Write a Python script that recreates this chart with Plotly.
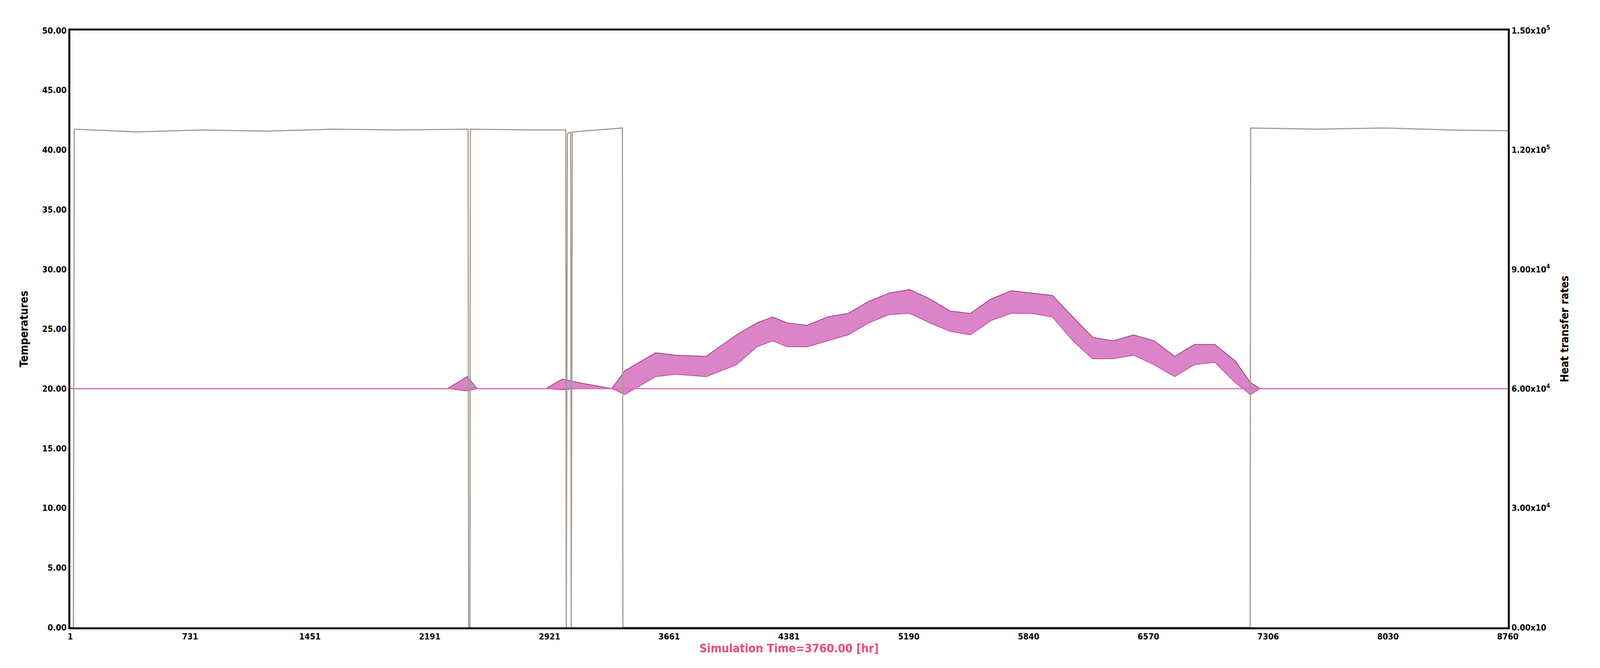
import plotly.graph_objects as go

# x tick positions / labels (labels as printed in the chart)
tick_hours = [1, 731, 1461, 2191, 2921, 3650, 4380, 5110, 5840, 6570, 7300, 8030, 8760]
tick_text = ["1", "731", "1451", "2191", "2921", "3661", "4381", "5190", "5840", "6570", "7306", "8030", "8760"]

# heat transfer rate (grey), breakpoints
heat_hours = [1, 20, 25, 400, 800, 1200, 1600, 2000, 2425, 2428, 2436, 2439, 2800, 3020, 3023, 3030,
              3050, 3053, 3060, 3365, 3368, 7190, 7193, 7600, 8000, 8400, 8760]
heat_rate = [0, 0, 1.252e5, 1.245e5, 1.25e5, 1.247e5, 1.252e5, 1.25e5, 1.252e5, 0, 0, 1.252e5, 1.25e5,
             1.25e5, 0, 1.24e5, 1.245e5, 0, 1.245e5, 1.255e5, 0, 0, 1.255e5, 1.252e5, 1.255e5, 1.25e5, 1.248e5]

# temperature band (pink): lower / upper envelope
temp_hours = [1, 2300, 2420, 2480, 2900, 3000, 3100, 3300, 3380, 3567, 3690, 3875, 4060, 4185, 4280,
              4370, 4490, 4615, 4740, 4865, 4990, 5115, 5240, 5360, 5485, 5610, 5735, 5860, 5985,
              6110, 6230, 6355, 6480, 6605, 6730, 6850, 6975, 7100, 7192, 7250, 8760]
temp_low = [20, 20, 19.8, 20, 20, 19.9, 20, 20, 19.5, 21.0, 21.2, 21.0, 22.0, 23.5, 24.0,
            23.5, 23.5, 24.0, 24.5, 25.5, 26.2, 26.3, 25.5, 24.8, 24.5, 25.7, 26.3, 26.3, 26.0,
            24.0, 22.5, 22.5, 22.8, 22.0, 21.0, 22.0, 22.2, 20.5, 19.5, 20, 20]
temp_high = [20, 20, 21.0, 20, 20, 20.8, 20.5, 20, 21.5, 23.0, 22.8, 22.7, 24.5, 25.5, 26.0,
             25.5, 25.3, 26.0, 26.3, 27.3, 28.0, 28.3, 27.5, 26.5, 26.3, 27.5, 28.2, 28.0, 27.8,
             26.0, 24.3, 24.0, 24.5, 24.0, 22.7, 23.7, 23.7, 22.3, 20.5, 20, 20]

left_ticks = [0, 5, 10, 15, 20, 25, 30, 35, 40, 45, 50]
right_ticks = [0, 3e4, 6e4, 9e4, 1.2e5, 1.5e5]
right_text = ["0.00x10", "3.00x10<sup>4</sup>", "6.00x10<sup>4</sup>", "9.00x10<sup>4</sup>",
              "1.20x10<sup>5</sup>", "1.50x10<sup>5</sup>"]

font = "DejaVu Sans Condensed, Liberation Sans Narrow, Arial Narrow, sans-serif"

fig = go.Figure()
fig.add_trace(go.Scatter(x=temp_hours, y=temp_low, mode="lines",
                         line=dict(color="#c0509e", width=2), showlegend=False))
fig.add_trace(go.Scatter(x=temp_hours, y=temp_high, mode="lines", fill="tonexty",
                         fillcolor="rgba(214,110,190,0.85)",
                         line=dict(color="#9a3f85", width=2), showlegend=False))
fig.add_trace(go.Scatter(x=[1, 8760], y=[20, 20], mode="lines",
                         line=dict(color="#d670b8", width=3), showlegend=False))
fig.add_trace(go.Scatter(x=heat_hours, y=heat_rate, mode="lines", yaxis="y2",
                         line=dict(color="#a39a93", width=3), showlegend=False))

fig.update_layout(
    width=4114, height=1709,
    paper_bgcolor="white", plot_bgcolor="white",
    margin=dict(l=172, r=262, t=70, b=112),
    font=dict(family=font, size=22, color="black"),
    xaxis=dict(range=[1, 8760], tickvals=tick_hours, ticktext=[f"<b>{t}</b>" for t in tick_text],
               showgrid=False, zeroline=False, showline=True, linecolor="black", linewidth=5,
               mirror=True, tickfont=dict(size=22, family=font),
               title=dict(text="<b>Simulation Time=3760.00 [hr]</b>", standoff=8,
                          font=dict(size=30, color="#ee4d78", family=font))),
    yaxis=dict(range=[0, 50], tickvals=left_ticks, ticktext=[f"<b>{v:.2f}</b>" for v in left_ticks],
               showgrid=False, zeroline=False, showline=True, linecolor="black", linewidth=5,
               title=dict(text="<b>Temperatures</b>", font=dict(size=28), standoff=30)),
    yaxis2=dict(range=[0, 1.5e5], overlaying="y", side="right", tickvals=right_ticks,
                ticktext=[f"<b>{t}</b>" for t in right_text], showgrid=False, zeroline=False,
                showline=True, linecolor="black", linewidth=5,
                title=dict(text="<b>Heat transfer rates</b>", font=dict(size=28), standoff=30)),
)

fig.write_html("out.html")
